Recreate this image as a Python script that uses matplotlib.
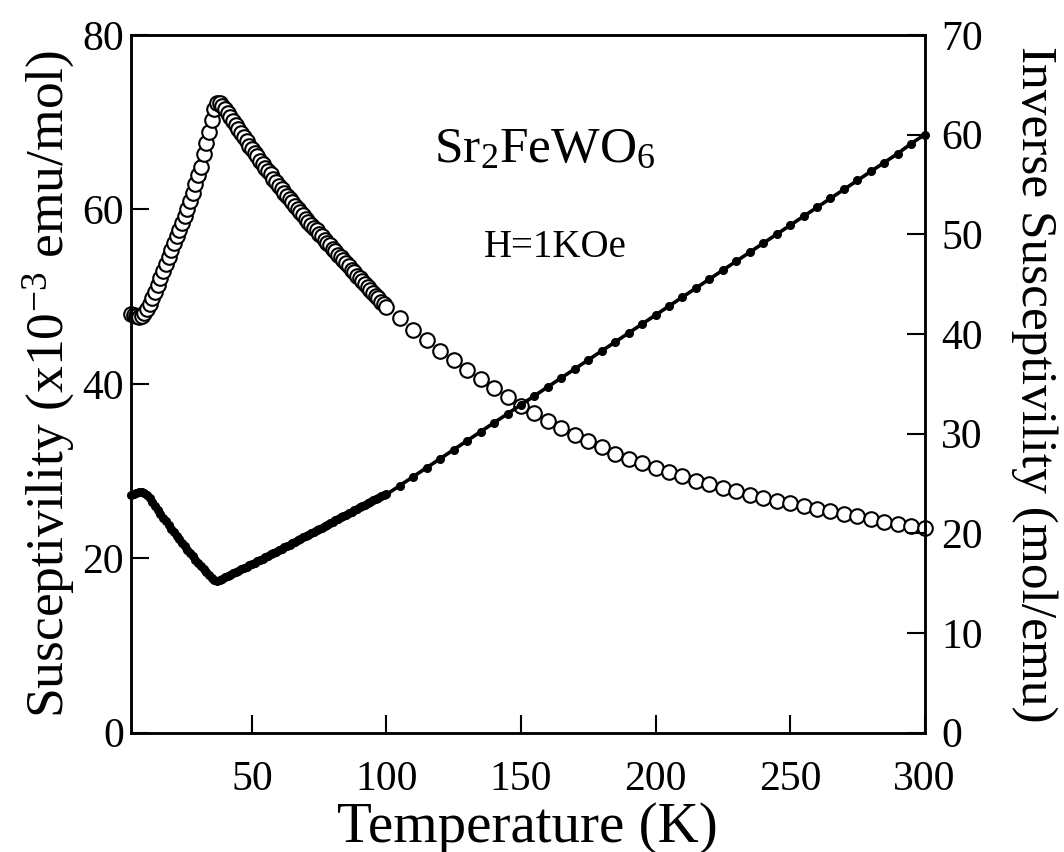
import matplotlib
matplotlib.use("Agg")
import matplotlib.pyplot as plt

plt.rcParams['font.family'] = ['Liberation Serif', 'DejaVu Serif']
plt.rcParams['mathtext.fontset'] = 'custom'
plt.rcParams['mathtext.rm'] = 'Liberation Serif'
plt.rcParams['mathtext.it'] = 'Liberation Serif:italic'

# susceptibility (x10^-3 emu/mol), dense part 5-100 K in 1 K steps
temp_low = list(range(5, 101))
chi_low = [48.0, 47.9, 47.8, 47.7, 47.8, 48.1, 48.6, 49.2, 49.8, 50.5,
           51.3, 52.1, 52.9, 53.7, 54.5, 55.3, 56.1, 56.9, 57.6, 58.4,
           59.2, 60.1, 61.0, 61.9, 62.9, 63.9, 64.9, 66.3, 67.6, 68.9,
           70.2, 71.5, 72.2, 72.2, 71.9, 71.5, 71.1, 70.6, 70.1, 69.7,
           69.2, 68.8, 68.3, 67.8, 67.3, 66.9, 66.5, 66.1, 65.6, 65.2,
           64.8, 64.4, 64.0, 63.5, 63.1, 62.7, 62.3, 61.9, 61.5, 61.2,
           60.8, 60.4, 60.0, 59.7, 59.3, 58.9, 58.6, 58.2, 57.9, 57.6,
           57.2, 56.9, 56.5, 56.2, 55.9, 55.5, 55.2, 54.8, 54.5, 54.2,
           53.8, 53.5, 53.1, 52.8, 52.4, 52.1, 51.8, 51.4, 51.1, 50.8,
           50.4, 50.1, 49.8, 49.4, 49.1, 48.8]
inv_low = [23.8, 23.9, 24.0, 24.1, 24.1, 24.0, 23.8, 23.5, 23.1, 22.7,
           22.3, 21.9, 21.5, 21.2, 20.8, 20.4, 20.1, 19.7, 19.4, 19.0,
           18.7, 18.3, 18.0, 17.7, 17.3, 17.0, 16.7, 16.4, 16.1, 15.8,
           15.5, 15.3, 15.2, 15.3, 15.4, 15.6, 15.7, 15.8, 16.0, 16.1,
           16.2, 16.4, 16.5, 16.6, 16.8, 16.9, 17.0, 17.2, 17.3, 17.4,
           17.6, 17.7, 17.9, 18.0, 18.1, 18.3, 18.4, 18.6, 18.7, 18.8,
           19.0, 19.1, 19.3, 19.4, 19.6, 19.7, 19.8, 20.0, 20.1, 20.3,
           20.4, 20.5, 20.7, 20.8, 21.0, 21.1, 21.3, 21.4, 21.6, 21.7,
           21.8, 22.0, 22.1, 22.3, 22.4, 22.6, 22.7, 22.8, 23.0, 23.1,
           23.3, 23.4, 23.5, 23.7, 23.8, 23.9]

# 105-300 K in 5 K steps
temp_high = list(range(105, 301, 5))
chi_high = [47.5, 46.2, 45.0, 43.8, 42.7, 41.6, 40.5, 39.5, 38.5, 37.5,
            36.6, 35.7, 34.9, 34.1, 33.4, 32.7, 32.0, 31.4, 30.9, 30.4,
            29.9, 29.4, 28.9, 28.5, 28.1, 27.7, 27.3, 26.9, 26.6, 26.3,
            26.0, 25.7, 25.4, 25.1, 24.8, 24.5, 24.2, 23.9, 23.7, 23.5]
inv_high = [24.8, 25.7, 26.6, 27.5, 28.4, 29.3, 30.2, 31.1, 32.0, 32.9,
            33.8, 34.7, 35.6, 36.5, 37.4, 38.3, 39.2, 40.1, 41.0, 41.9,
            42.8, 43.7, 44.6, 45.5, 46.4, 47.3, 48.2, 49.1, 50.0, 50.9,
            51.8, 52.7, 53.6, 54.5, 55.4, 56.3, 57.2, 58.1, 59.1, 60.0]

temp = temp_low + temp_high
chi = chi_low + chi_high
inv = inv_low + inv_high

fig = plt.figure(figsize=(10.64, 8.52), dpi=100)
ax = fig.add_axes([0.123, 0.140, 0.746, 0.819])
ax2 = ax.twinx()

ax.plot(temp, chi, 'o', mfc='white', mec='black', ms=10.5, mew=1.5, clip_on=False)
ax2.plot(temp, inv, '-o', color='black', lw=2.6, ms=5.5, clip_on=False)

ax.set_xlim(5, 300)
ax.set_ylim(0, 80)
ax2.set_ylim(0, 70)
ax.set_xticks([50, 100, 150, 200, 250, 300])
ax.set_yticks([0, 20, 40, 60, 80])
ax2.set_yticks(range(0, 71, 10))

for a in (ax, ax2):
    a.tick_params(direction='in', length=13, width=1.5, labelsize=30)
    for s in a.spines.values():
        s.set_linewidth(1.8)
ax.tick_params(axis='x', pad=20)
ax.tick_params(axis='y', pad=5)
ax2.tick_params(axis='y', pad=12)

ax.set_xlabel('Temperature (K)', fontsize=41, labelpad=2)
ax.set_ylabel('Susceptivility (x10$^{-3}$ emu/mol)', fontsize=38.5, labelpad=4)
ax2.set_ylabel('Inverse Susceptivility (mol/emu)', fontsize=37, labelpad=20,
               rotation=270, va='bottom')

ax.text(0.522, 0.835, 'Sr$_2$FeWO$_6$', transform=ax.transAxes,
        fontsize=37, ha='center', va='center')
ax.text(0.535, 0.695, 'H=1KOe', transform=ax.transAxes,
        fontsize=28, ha='center', va='center')

fig.savefig('out.png', dpi=100)
